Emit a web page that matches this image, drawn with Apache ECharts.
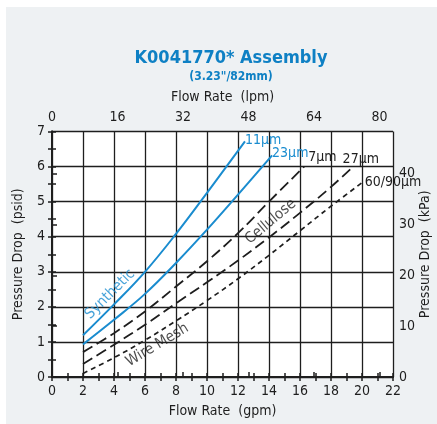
<!DOCTYPE html>
<html>
<head>
<meta charset="utf-8">
<script src="https://cdn.jsdelivr.net/npm/echarts@6/dist/echarts.min.js"></script>
<style>
html,body{margin:0;padding:0;background:#fff;}
#c{width:437px;height:424px;}
</style>
</head>
<body>
<div id="c"></div>
<script>
// ---- data (gpm, psid) ----
var syn11X = [2, 4, 6, 8, 10, 12.45];
var syn11Y = [1.19, 2.07, 3.0, 4.08, 5.25, 6.72];
var syn23X = [2, 4, 6, 8, 10, 12, 14.2];
var syn23Y = [0.93, 1.63, 2.37, 3.25, 4.2, 5.2, 6.32];
var cel7X = [2, 4, 6, 8, 10, 12, 14, 16.27];
var cel7Y = [0.71, 1.25, 1.87, 2.58, 3.3, 4.1, 5.0, 6.0];
var cel27X = [2, 4, 6, 8, 10, 12, 14, 16, 18, 19.33];
var cel27Y = [0.37, 0.92, 1.49, 2.1, 2.7, 3.32, 3.98, 4.68, 5.42, 5.96];
var wireX = [2, 4, 6, 8, 10, 12, 14, 16, 18, 20.18];
var wireY = [0.1, 0.55, 1.05, 1.6, 2.18, 2.8, 3.47, 4.17, 4.87, 5.6];
var lpmTicks = [0, 16, 32, 48, 64, 80];
var kpaTicks = [0, 10, 20, 30, 40];
var GPM_TO_LPM = 3.785;
var PSI_TO_KPA = 6.895;
var X_MAX = 22, Y_MAX = 7;

function pairs(xs, ys){ return xs.map(function(x,i){ return [x, ys[i]]; }); }

var FONT = "'Liberation Sans Narrow', 'DejaVu Sans Condensed', sans-serif";
var BLUE = '#1a8ccf';
var TITLE_BLUE = '#0e80c4';
var INK = '#1e1e1e';

var chart = echarts.init(document.getElementById('c'), null, {renderer:'canvas'});

function lineSeries(name, xs, ys, color, dash, label, off, width){
  return {
    name: name, type: 'line', data: pairs(xs, ys), smooth: 0.4,
    showSymbol: false, symbol: 'none', xAxisIndex: 0, yAxisIndex: 0,
    lineStyle: {color: color, width: width || 2, type: dash},
    endLabel: {show: true, formatter: label, color: color, fontFamily: FONT, fontSize: 14,
      offset: off, distance: 0},
    silent: true, z: 5
  };
}

var seriesList = [
  lineSeries('s11', syn11X, syn11Y, BLUE, 'solid', '11μm', [0, -1]),
  lineSeries('s23', syn23X, syn23Y, BLUE, 'solid', '23μm', [0, -2]),
  lineSeries('c7', cel7X, cel7Y, INK, [11, 5], '7μm', [4, -9], 1.8),
  lineSeries('c27', cel27X, cel27Y, INK, [11, 5], '27μm', [-9, -9], 1.8),
  lineSeries('w', wireX, wireY, INK, [5, 4], '60/90μm', [0, 2], 1.7)
];

// rotated curve family labels, anchored at data coordinates
seriesList.push({
  type: 'scatter', xAxisIndex: 0, yAxisIndex: 0, symbolSize: 0, silent: true, z: 6,
  data: [
    {value: [3.74, 2.36], label: {formatter: 'Synthetic', rotate: 45, color: BLUE}},
    {value: [14.11, 4.43], label: {formatter: 'Cellulose', rotate: 40, color: INK}},
    {value: [6.79, 0.91], label: {formatter: 'Wire Mesh', rotate: 31, color: INK}}
  ],
  label: {show: true, position: 'inside', fontFamily: FONT, fontSize: 15, align: 'center', verticalAlign: 'middle'}
});

var axisLabelStyle = {color: INK, fontFamily: FONT, fontSize: 14};
var nameStyle = {color: INK, fontFamily: FONT, fontSize: 14};

chart.setOption({
  animation: false,
  backgroundColor: '#ffffff',
  graphic: [{type: 'rect', left: 6, top: 7, shape: {width: 440, height: 430}, style: {fill: '#eef1f3'}, z: -100, silent: true}],
  title: {
    text: 'K0041770* Assembly', subtext: '(3.23"/82mm)',
    left: 226, top: 44, textAlign: 'center', itemGap: 4,
    textStyle: {color: TITLE_BLUE, fontFamily: FONT, fontSize: 18, fontWeight: 'bold'},
    subtextStyle: {color: TITLE_BLUE, fontFamily: FONT, fontSize: 12, fontWeight: 'bold'}
  },
  grid: {left: 52, right: 44, top: 131.5, bottom: 47, show: true, backgroundColor: '#ffffff', borderWidth: 0,
    outerBoundsMode: 'none', containLabel: false},
  xAxis: [
    {type: 'value', position: 'bottom', min: 0, max: X_MAX, interval: 2,
      name: 'Flow Rate  (gpm)', nameLocation: 'middle', nameGap: 27, nameMoveOverlap: false, nameTextStyle: nameStyle,
      axisLine: {show: true, lineStyle: {color: INK, width: 2}},
      axisTick: {show: true, inside: true, length: 4, lineStyle: {color: INK, width: 1.5}},
      minorTick: {show: true, splitNumber: 2, length: 4, lineStyle: {color: INK, width: 1.5}},
      axisLabel: Object.assign({margin: 7}, axisLabelStyle),
      splitLine: {show: true, lineStyle: {color: INK, width: 1.3}}},
    {type: 'value', position: 'top', min: 0, max: X_MAX * GPM_TO_LPM,
      name: 'Flow Rate  (lpm)', nameLocation: 'middle', nameGap: 27.5, nameMoveOverlap: false, nameTextStyle: nameStyle,
      axisLine: {show: true, lineStyle: {color: INK, width: 2}},
      axisTick: {show: true, inside: false, length: 5, customValues: lpmTicks, lineStyle: {color: INK, width: 1.5}},
      axisLabel: Object.assign({margin: 7, customValues: lpmTicks}, axisLabelStyle),
      splitLine: {show: false}},
    {type: 'value', position: 'top', min: 0, max: X_MAX, interval: 2,
      axisLine: {show: false}, axisLabel: {show: false},
      axisTick: {show: true, inside: true, length: 4, lineStyle: {color: INK, width: 1.5}},
      minorTick: {show: true, splitNumber: 2, length: 4, lineStyle: {color: INK, width: 1.5}},
      splitLine: {show: false}}
  ],
  yAxis: [
    {type: 'value', position: 'left', min: 0, max: Y_MAX, interval: 1,
      name: 'Pressure Drop  (psid)', nameLocation: 'middle', nameGap: 27, nameMoveOverlap: false, nameTextStyle: nameStyle,
      axisLine: {show: true, lineStyle: {color: INK, width: 2}},
      axisTick: {show: true, inside: true, length: 4, lineStyle: {color: INK, width: 1.5}},
      minorTick: {show: true, splitNumber: 2, length: 4, lineStyle: {color: INK, width: 1.5}},
      axisLabel: Object.assign({margin: 7}, axisLabelStyle),
      splitLine: {show: true, lineStyle: {color: INK, width: 1.3}}},
    {type: 'value', position: 'right', min: 0, max: Y_MAX * PSI_TO_KPA,
      name: 'Pressure Drop  (kPa)', nameLocation: 'middle', nameGap: 25, nameMoveOverlap: false, nameTextStyle: nameStyle,
      axisLine: {show: true, lineStyle: {color: INK, width: 2}},
      axisTick: {show: true, inside: false, length: 5, customValues: kpaTicks, lineStyle: {color: INK, width: 1.5}},
      axisLabel: Object.assign({margin: 6, customValues: kpaTicks}, axisLabelStyle),
      splitLine: {show: false}},
    {type: 'value', position: 'right', min: 0, max: Y_MAX, interval: 1,
      axisLine: {show: false}, axisLabel: {show: false},
      axisTick: {show: true, inside: true, length: 4, lineStyle: {color: INK, width: 1.5}},
      minorTick: {show: true, splitNumber: 2, length: 4, lineStyle: {color: INK, width: 1.5}},
      splitLine: {show: false}}
  ],
  series: seriesList
});
</script>
</body>
</html>
